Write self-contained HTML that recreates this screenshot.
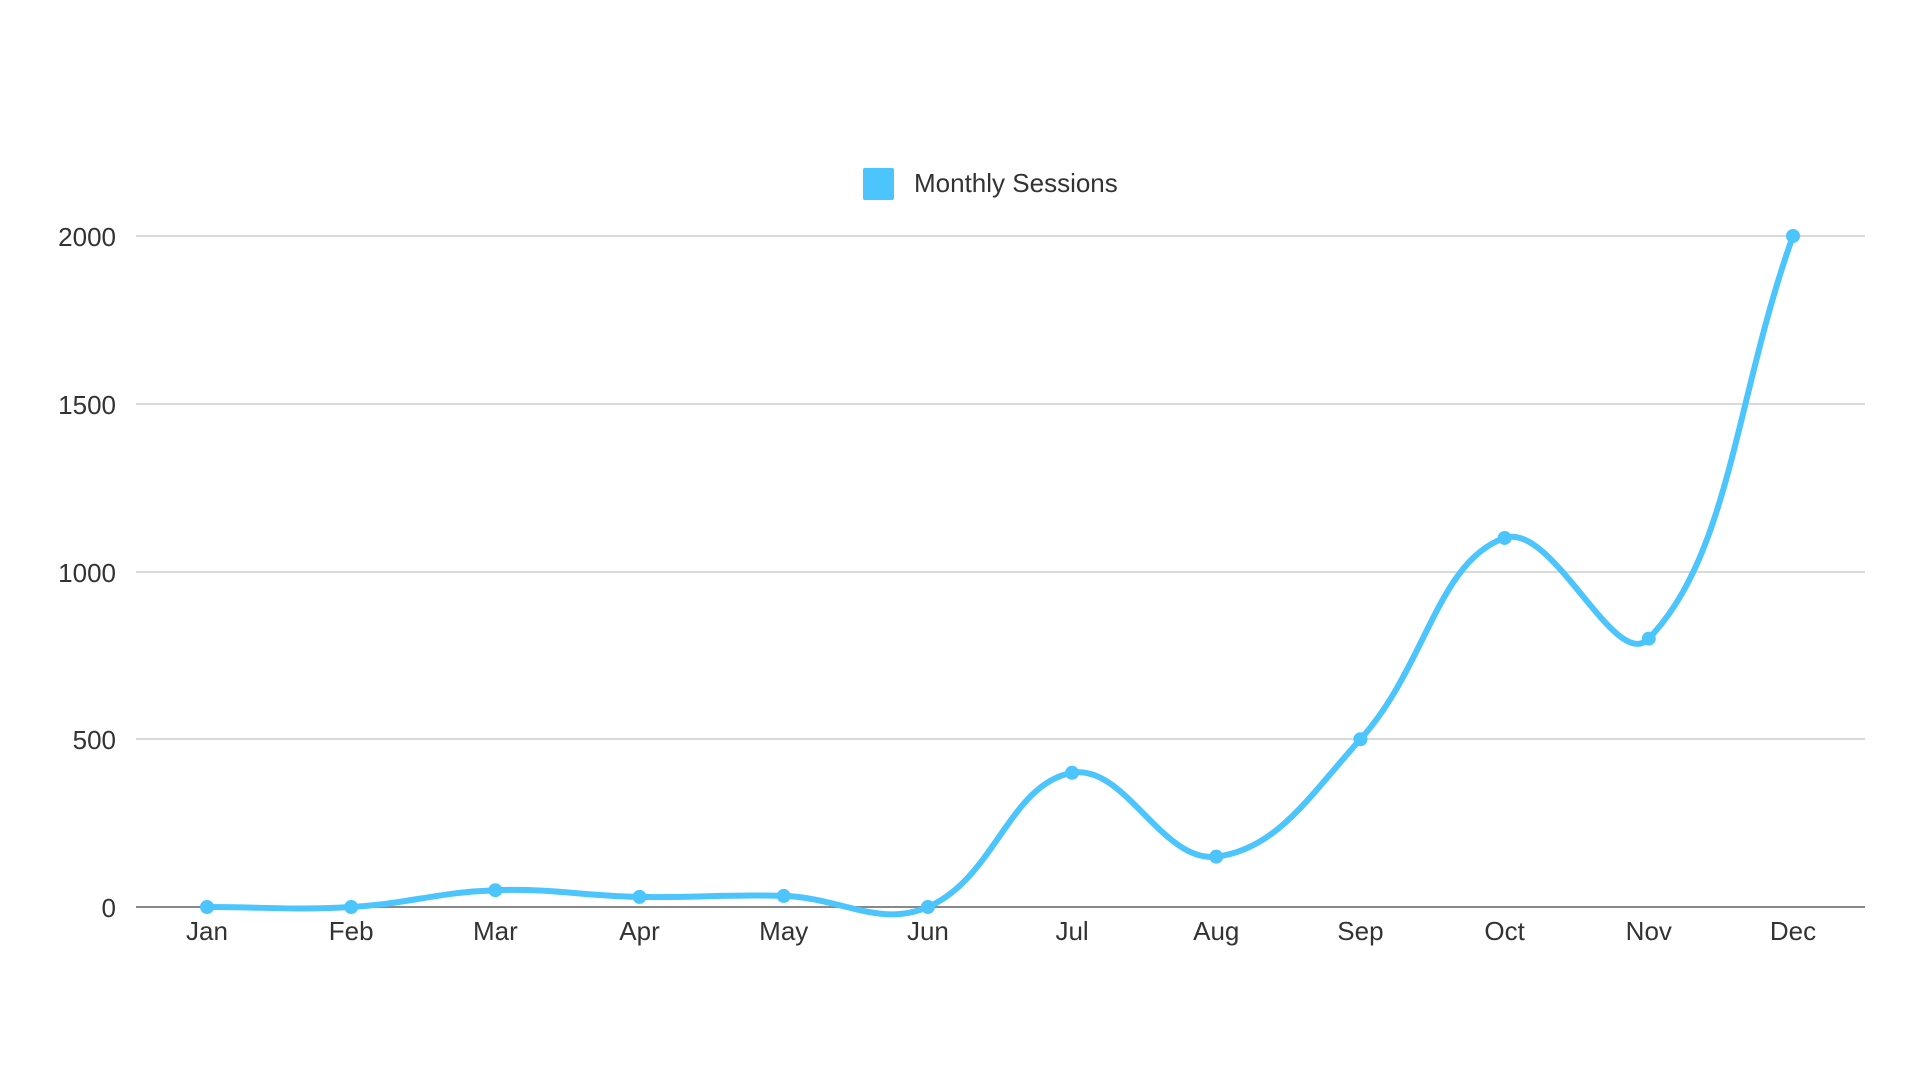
<!DOCTYPE html>
<html><head><meta charset="utf-8"><style>
html,body{margin:0;padding:0;background:#fff;}
svg{display:block;}
text{font-family:"Liberation Sans",sans-serif;fill:#333;}
</style></head><body>
<svg id="c" width="1920" height="1080" xmlns="http://www.w3.org/2000/svg">
<g stroke="#d9d9d9" stroke-width="2">
<line x1="136" y1="236" x2="1865" y2="236"/>
<line x1="136" y1="404" x2="1865" y2="404"/>
<line x1="136" y1="572" x2="1865" y2="572"/>
<line x1="136" y1="739" x2="1865" y2="739"/>
</g>
<line x1="136" y1="907" x2="1865" y2="907" stroke="#888" stroke-width="2"/>
<g font-size="26" text-anchor="end">
<text x="116" y="246">2000</text>
<text x="116" y="414">1500</text>
<text x="116" y="582">1000</text>
<text x="116" y="749">500</text>
<text x="116" y="917">0</text>
</g>
<g id="xl" font-size="26" text-anchor="middle"></g>
<rect x="863" y="168" width="31" height="32" rx="2" fill="#4cc4fc"/>
<text x="914" y="192" font-size="26">Monthly Sessions</text>
<path id="ln" fill="none" stroke="#4cc4fc" stroke-width="6" stroke-linejoin="round" stroke-linecap="round"/>
<g id="pts" fill="#4cc4fc"></g>
</svg>
<script>
var v=[0,0,50,30,33,0,400,150,500,1100,800,2000];
var m=["Jan","Feb","Mar","Apr","May","Jun","Jul","Aug","Sep","Oct","Nov","Dec"];
var P=v.map(function(d,i){return {x:207+i*144.18,y:907-d*0.3355};});
var ns="http://www.w3.org/2000/svg",xl=document.getElementById("xl"),pts=document.getElementById("pts");
m.forEach(function(s,i){var t=document.createElementNS(ns,"text");t.setAttribute("x",P[i].x);t.setAttribute("y",940);t.textContent=s;xl.appendChild(t);
var c=document.createElementNS(ns,"circle");c.setAttribute("cx",P[i].x);c.setAttribute("cy",P[i].y);c.setAttribute("r",7);pts.appendChild(c);});
var T=0.4,cp=[];
for(var i=0;i<P.length;i++){var p0=P[i-1]||P[i],p1=P[i],p2=P[i+1]||P[i];
var d01=Math.hypot(p1.x-p0.x,p1.y-p0.y),d12=Math.hypot(p2.x-p1.x,p2.y-p1.y);
var s01=d01/(d01+d12)||0,s12=d12/(d01+d12)||0;var fa=T*s01,fb=T*s12;
cp.push({px:p1.x-fa*(p2.x-p0.x),py:p1.y-fa*(p2.y-p0.y),nx:p1.x+fb*(p2.x-p0.x),ny:p1.y+fb*(p2.y-p0.y)});}
var d="M"+P[0].x+" "+P[0].y;
for(var i=1;i<P.length;i++){d+=" C"+cp[i-1].nx+" "+cp[i-1].ny+" "+cp[i].px+" "+cp[i].py+" "+P[i].x+" "+P[i].y;}
document.getElementById("ln").setAttribute("d",d);
</script>
</body></html>
